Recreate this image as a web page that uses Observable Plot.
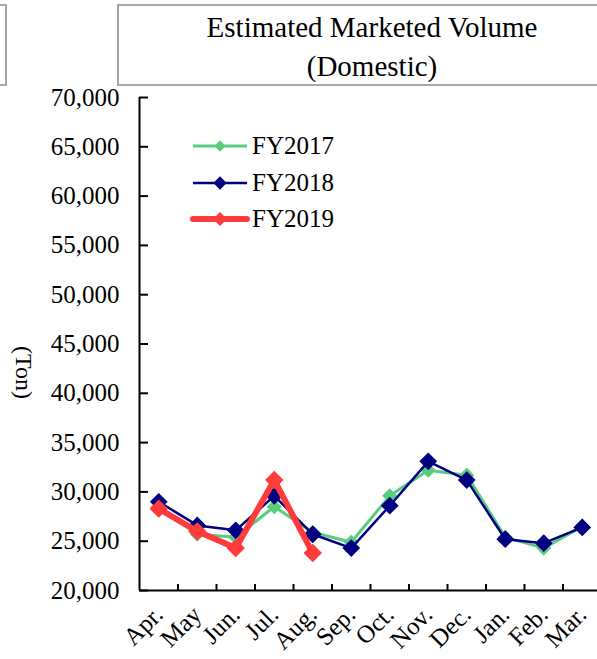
<!DOCTYPE html>
<html><head><meta charset="utf-8">
<script src="https://cdn.jsdelivr.net/npm/d3@7"></script>
<script src="https://cdn.jsdelivr.net/npm/@observablehq/plot@0.6"></script>
<style>
body{margin:0;background:#fff;font-family:"Liberation Serif","Times New Roman",serif;color:#000;}
#wrap{position:relative;width:597px;height:659px;overflow:hidden;}
.box{position:absolute;border:2px solid #a8a8a8;box-sizing:border-box;background:#fff;}
#title{left:117px;top:4px;width:510px;height:82px;text-align:center;font-size:29px;line-height:39px;padding-top:2px;}
#leftbox{left:-100px;top:4px;width:107px;height:82px;}
#chart{position:absolute;left:0;top:0;}
#legend{position:absolute;left:190px;top:128px;font-size:25px;}
#legend .row{display:flex;align-items:center;height:36.5px;}
#legend svg{display:block;margin-right:2px;}
</style></head>
<body>
<div id="wrap">
  <div class="box" id="leftbox"></div>
  <div class="box" id="title">Estimated Marketed Volume<br>(Domestic)</div>
  <div id="chart"></div>
  <div id="legend"></div>
</div>
<script>
const months = ["Apr.","May","Jun.","Jul.","Aug.","Sep.","Oct.","Nov.","Dec.","Jan.","Feb.","Mar."];
const fy2017 = [28500, 25700, 25400, 28500, 25900, 24900, 29600, 32200, 31700, 25400, 24300, 26500];
const fy2018 = [29000, 26600, 26100, 29600, 25700, 24300, 28600, 33100, 31200, 25200, 24800, 26400];
const fy2019 = [28300, 26000, 24300, 31200, 23800];
const yTicks = [20000, 25000, 30000, 35000, 40000, 45000, 50000, 55000, 60000, 65000, 70000];

const seriesDefs = [
  {name: "FY2017", values: fy2017, color: "#58cd7e", width: 3, r: 6.8},
  {name: "FY2018", values: fy2018, color: "#000080", width: 2.5, r: 8},
  {name: "FY2019", values: fy2019, color: "#ff3b3b", width: 6, r: 8.3}
];
const rows = s => s.values.map((v, i) => ({i, month: months[i], value: v}));

const marks = [];
for (const s of seriesDefs) {
  const d = rows(s);
  marks.push(Plot.line(d, {x: "i", y: "value", stroke: s.color, strokeWidth: s.width, strokeLinejoin: "round"}));
  marks.push(Plot.dot(d, {x: "i", y: "value", symbol: "diamond2", r: s.r, fill: s.color, stroke: "none"}));
}

const boundaries = d3.range(months.length - 1).map(i => i + 0.5);

const chart = Plot.plot({
  width: 597,
  height: 659,
  marginTop: 97,
  marginBottom: 69,
  marginLeft: 139,
  marginRight: 0,
  style: {fontFamily: "'Liberation Serif', 'Times New Roman', serif", fontSize: "25px", background: "transparent", overflow: "visible", color: "#000"},
  x: {domain: [-0.5, months.length - 0.5], range: [139, 601]},
  y: {domain: [20000, 70000], range: [590, 97]},
  marks: [
    Plot.axisY({ticks: yTicks, tickSize: 0, tickPadding: 20, tickFormat: d3.format(","), label: null}),
    Plot.axisY({ticks: yTicks, tickSize: -9, strokeWidth: 2, text: null, label: null}),
    Plot.text(["(Ton)"], {frameAnchor: "left", dx: -116, dy: 2, rotate: 90, fontSize: 24}),
    Plot.axisX({ticks: d3.range(months.length), tickFormat: i => months[i], tickSize: 0, tickPadding: 20, tickRotate: -45, label: null}),
    Plot.axisX({ticks: boundaries, tickSize: -6, strokeWidth: 2, text: null, label: null}),
    Plot.ruleX([-0.5], {stroke: "#000", strokeWidth: 2}),
    Plot.ruleY([20000], {stroke: "#000", strokeWidth: 2}),
    ...marks
  ]
});
document.getElementById("chart").appendChild(chart);

// legend
const leg = document.getElementById("legend");
for (const s of seriesDefs) {
  const row = document.createElement("div");
  row.className = "row";
  const sw = d3.create("svg").attr("width", 60).attr("height", 22);
  sw.append("line").attr("x1", 3).attr("x2", 57).attr("y1", 11).attr("y2", 11)
    .attr("stroke", s.color).attr("stroke-width", s.width).attr("stroke-linecap", s.width > 4 ? "round" : "butt");
  const h = s.r * Math.sqrt(Math.PI) * 0.62625 * 0.75;
  sw.append("path").attr("d", `M30,${11 - h}L${30 + h},11L30,${11 + h}L${30 - h},11Z`).attr("fill", s.color);
  row.appendChild(sw.node());
  const t = document.createElement("span");
  t.textContent = s.name;
  row.appendChild(t);
  leg.appendChild(row);
}
</script>
</body></html>
